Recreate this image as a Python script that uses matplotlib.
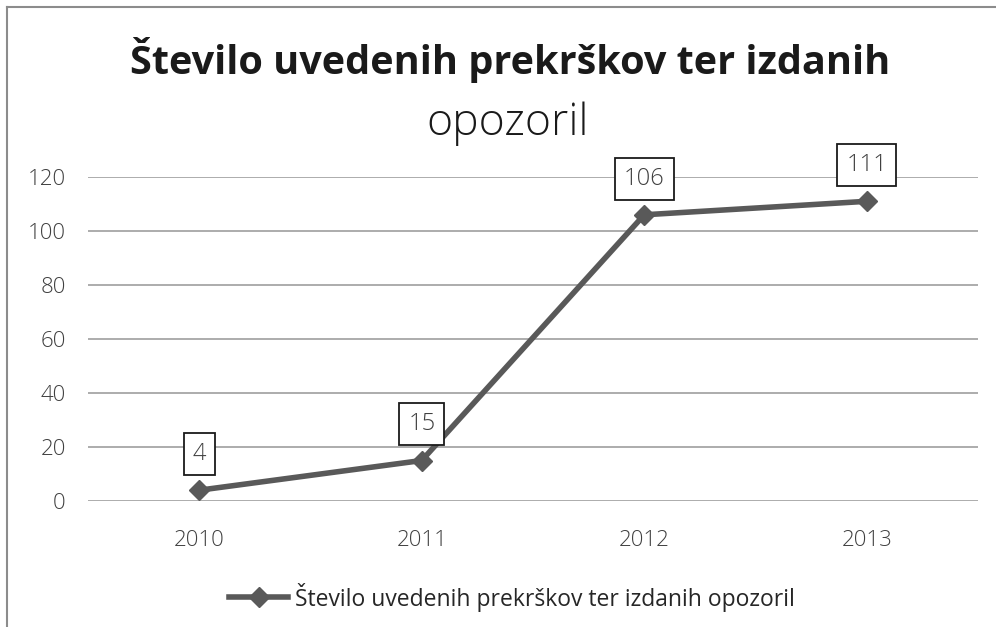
import matplotlib
matplotlib.use("Agg")
import matplotlib.pyplot as plt
from matplotlib.lines import Line2D

years = ["2010", "2011", "2012", "2013"]
values = [4, 15, 106, 111]
y_ticks = [0, 20, 40, 60, 80, 100, 120]
series_name = "Število uvedenih prekrškov ter izdanih opozoril"
title_bold = "Število uvedenih prekrškov ter izdanih"
title_light = "opozoril"

plt.rcParams["font.family"] = ["Open Sans", "DejaVu Sans"]

W, H = 996, 627
fig = plt.figure(figsize=(W / 100, H / 100), dpi=100)
fig.patch.set_facecolor("white")

# chart frame (top and left edges visible)
fig.add_artist(Line2D([7 / W, 7 / W], [0, 1 - 7 / H], color="#8c8c8c", lw=1.5,
                      transform=fig.transFigure))
fig.add_artist(Line2D([7 / W, 1], [1 - 7 / H, 1 - 7 / H], color="#8c8c8c", lw=1.5,
                      transform=fig.transFigure))

ax = fig.add_axes([88 / W, 1 - 501 / H, 890 / W, 324 / H])
x = list(range(len(years)))
line_color = "#595959"
ax.plot(x, values, color=line_color, lw=4.0, marker="D", markersize=10.5,
        markeredgecolor=line_color, markerfacecolor=line_color, zorder=3,
        clip_on=False)

ax.set_xlim(-0.5, len(years) - 0.5)
ax.set_ylim(0, 120)
ax.set_yticks(y_ticks)
ax.set_xticks(x)
ax.set_xticklabels(years)
ax.tick_params(axis="both", length=0, labelsize=16, labelcolor="#404040")
ax.tick_params(axis="y", pad=16)
ax.tick_params(axis="x", pad=21)
for lbl in ax.get_yticklabels() + ax.get_xticklabels():
    lbl.set_fontweight("light")
ax.grid(axis="y", color="#a6a6a6", lw=1.3)
ax.set_axisbelow(True)
for s in ax.spines.values():
    s.set_visible(False)

for xi, v in zip(x, values):
    ax.annotate(str(v), (xi, v), xytext=(0, 26), textcoords="offset points",
                ha="center", va="center", fontsize=17, color="#404040",
                fontweight="light",
                bbox=dict(boxstyle="square,pad=0.38", fc="white", ec="#1a1a1a", lw=1.3),
                zorder=5, annotation_clip=False)

fig.text(510 / W, 1 - 60 / H, title_bold, ha="center", va="center", fontsize=28.5,
         fontweight="bold", color="#1a1a1a")
fig.text(508 / W, 1 - 124 / H, title_light, ha="center", va="center", fontsize=32,
         fontweight="light", color="#1a1a1a")

handle = Line2D([], [], color=line_color, lw=4.0, marker="D", markersize=10.5)
leg = fig.legend([handle], [series_name], loc="center", bbox_to_anchor=(512 / W, 1 - 597 / H),
                 frameon=False, fontsize=16.5, handlelength=2.6, handletextpad=0.3)
for t in leg.get_texts():
    t.set_color("#262626")

fig.savefig("out.png", dpi=100)
